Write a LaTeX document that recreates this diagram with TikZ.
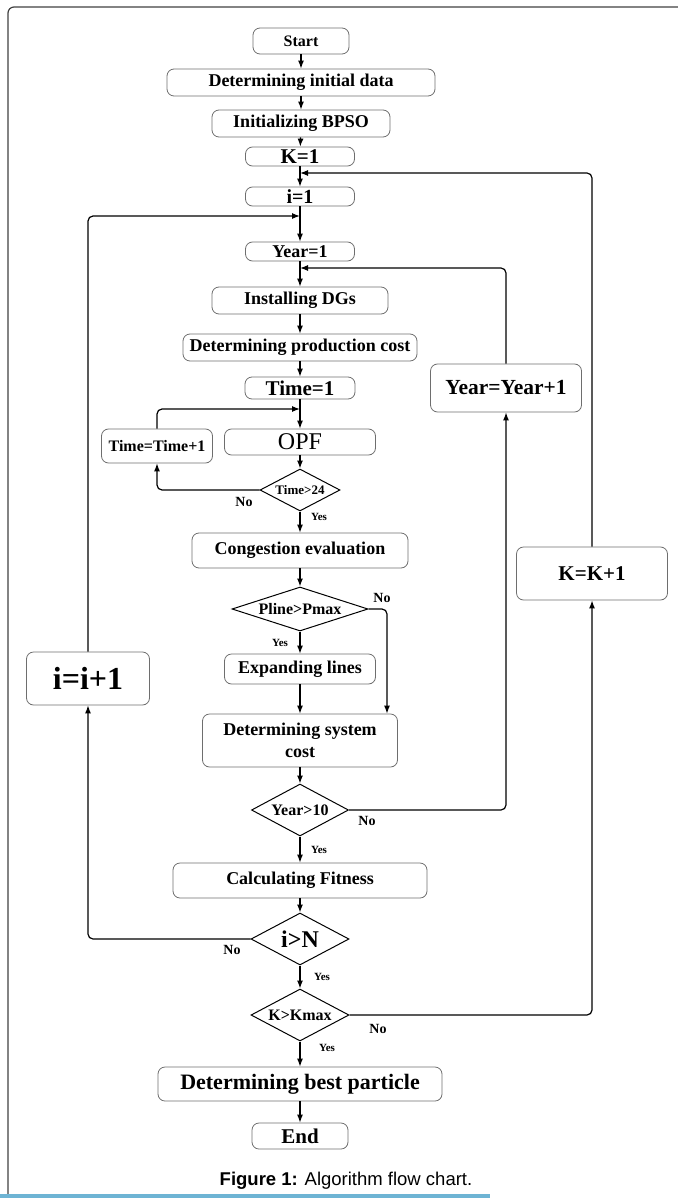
\documentclass[tikz,border=0pt]{standalone}
\usepackage{fontspec}
\setmainfont{Liberation Serif}
\newfontfamily\capfont{Liberation Sans}
\usetikzlibrary{shapes.geometric,arrows.meta}
\definecolor{boxgray}{RGB}{110,110,110}
\definecolor{capblue}{RGB}{110,180,212}
\newcommand{\fsz}[1]{\fontsize{#1}{#1}\selectfont}
\tikzset{
  box/.style={draw=boxgray, rounded corners=7pt, line width=0.8pt, inner sep=0pt, align=center, font=\bfseries\fontsize{18}{22}\selectfont},
  decision/.style={shape=diamond, draw=black, line width=1pt, inner sep=0pt, aspect=1.9, font=\bfseries\fsz{16}},
  lbl/.style={inner sep=0pt, font=\bfseries\fsz{14}},
  lbls/.style={inner sep=0pt, font=\bfseries\fsz{11}},
  >={Latex[length=8pt,width=6pt]}
}
\begin{document}
\begin{tikzpicture}[x=1pt,y=-1pt,line width=1.2pt]
    \useasboundingbox (0,0) rectangle (677,1198);
    % frame
    \draw[black!75, rounded corners=6pt] (8,1198) -- (8,7) -- (700,7);
    \fill[capblue] (0,1194) rectangle (490,1198);
    % main column
    \node[box, minimum width=96pt, minimum height=26pt, font=\bfseries\fsz{16}] (start) at (301,41) {Start};
    \node[box, minimum width=268pt, minimum height=27pt] (init) at (301,82.5) {Determining initial data};
    \node[box, minimum width=178pt, minimum height=27pt] (bpso) at (301,123.5) {Initializing BPSO};
    \node[box, minimum width=109pt, minimum height=19pt, font=\bfseries\fsz{21}] (k1) at (300,156.5) {K=1};
    \node[box, minimum width=109pt, minimum height=19pt, font=\bfseries\fsz{20}] (i1) at (300,196.5) {i=1};
    \node[box, minimum width=109pt, minimum height=19pt] (year1) at (300,251.5) {Year=1};
    \node[box, minimum width=176pt, minimum height=27pt] (dgs) at (300,300.5) {Installing DGs};
    \node[box, minimum width=234pt, minimum height=27pt] (prod) at (300,347.5) {Determining production cost};
    \node[box, minimum width=110pt, minimum height=22pt, font=\bfseries\fsz{21}] (time1) at (300,388) {Time=1};
    \node[box, minimum width=151pt, minimum height=26pt, font=\fsz{24}] (opf) at (300,442) {OPF};
    \node[box, minimum width=111pt, minimum height=34pt, font=\bfseries\fsz{16}] (ttt) at (157,446) {Time=Time+1};
    \node[decision, minimum width=80pt, minimum height=42pt, font=\bfseries\fsz{13}] (t24) at (300,490) {Time>24};
    \node[box, minimum width=216pt, minimum height=35pt] (cong) at (300,550.5) {Congestion evaluation};
    \node[decision, minimum width=136pt, minimum height=44pt, aspect=3.1] (pline) at (300,609) {Pline>Pmax};
    \node[box, minimum width=151pt, minimum height=30pt] (exp) at (300,669) {Expanding lines};
    \node[box, minimum width=195pt, minimum height=53pt] (sys) at (300,740.5) {Determining system\\cost};
    \node[decision, minimum width=97pt, minimum height=52pt] (y10) at (300,810) {Year>10};
    \node[box, minimum width=254pt, minimum height=35pt] (fit) at (300,880.5) {Calculating Fitness};
    \node[decision, minimum width=98pt, minimum height=52pt, font=\bfseries\fsz{24}] (iN) at (300,939) {i>N};
    \node[decision, minimum width=98pt, minimum height=52pt] (kmax) at (300,1015) {K>Kmax};
    \node[box, minimum width=284pt, minimum height=34pt, font=\bfseries\fsz{22}] (best) at (300,1084) {Determining best particle};
    \node[box, minimum width=96pt, minimum height=26pt, font=\bfseries\fsz{21}] (end) at (300,1136) {End};
    % side boxes
    \node[box, minimum width=123pt, minimum height=53pt, font=\bfseries\fsz{32}] (ii) at (88,678.5) {i=i+1};
    \node[box, minimum width=151pt, minimum height=48pt, font=\bfseries\fsz{21.5}] (yy) at (506,388) {Year=Year+1};
    \node[box, minimum width=151pt, minimum height=53pt, font=\bfseries\fsz{21}] (kk) at (592,573.5) {K=K+1};
    % junctions on the main line
    \coordinate (kj) at (300,173);
    \coordinate (ij) at (300,216);
    \coordinate (yj) at (300,268);
    \coordinate (tj) at (300,409);
    \coordinate (pn) at (387,609);
    % straight flow
    \path[->] (start) edge (init) (init) edge (bpso) (bpso) edge (k1)
        (k1) edge (i1) (i1) edge (year1) (year1) edge (dgs) (dgs) edge (prod)
        (prod) edge (time1) (time1) edge (opf) (opf) edge (t24) (t24) edge (cong)
        (cong) edge (pline) (pline) edge (exp) (exp) edge (sys) (sys) edge (y10)
        (y10) edge (fit) (fit) edge (iN) (iN) edge (kmax) (kmax) edge (best)
        (best) edge (end);
    % loops
    \draw[->, rounded corners=5pt] (t24.west) -| (ttt.south);
    \draw[->, rounded corners=5pt] (ttt.north) |- (tj);
    \draw[->, rounded corners=5pt] (pline.east) -- (pn) -- (pn |- sys.north);
    \draw[->, rounded corners=5pt] (y10.east) -| (yy.south);
    \draw[->, rounded corners=5pt] (yy.north) |- (yj);
    \draw[->, rounded corners=5pt] (iN.west) -| (ii.south);
    \draw[->, rounded corners=5pt] (ii.north) |- (ij);
    \draw[->, rounded corners=5pt] (kmax.east) -| (kk.south);
    \draw[->, rounded corners=5pt] (kk.north) |- (kj);
    % yes / no
    \node[lbl] (no1) at (244,502) {No};
    \node[lbls] (yes1) at (319,517) {Yes};
    \node[lbl] (no2) at (382,598) {No};
    \node[lbls] (yes2) at (280,643) {Yes};
    \node[lbl] (no3) at (367,821) {No};
    \node[lbls] (yes3) at (319,850) {Yes};
    \node[lbl] (no4) at (232,950) {No};
    \node[lbls] (yes4) at (322,977) {Yes};
    \node[lbl] (no5) at (378,1029) {No};
    \node[lbls] (yes5) at (327,1048) {Yes};
    % caption
    \node[font=\capfont\fsz{18.5}] (cap) at (346,1181) {\textbf{Figure 1:} Algorithm flow chart.};
\end{tikzpicture}
\end{document}
